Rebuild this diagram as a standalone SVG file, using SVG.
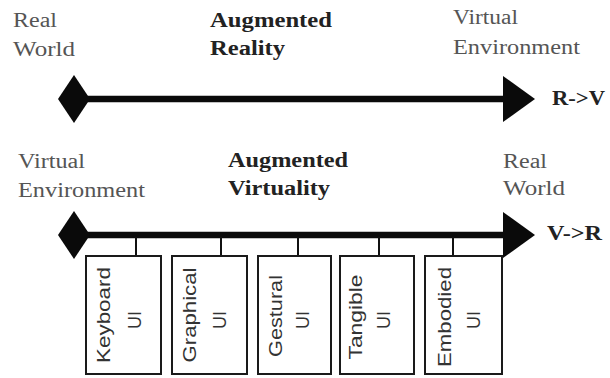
<svg xmlns="http://www.w3.org/2000/svg" width="610" height="378" viewBox="0 0 610 378">
<defs>
<style>
.lbl{font-size:20px;fill:#555}
.bld{font-size:20px;font-weight:bold;fill:#222}
.box{fill:#fff;stroke:#1a1a1a;stroke-width:2}
.bt{font-size:18px;fill:#333;text-anchor:middle}
.axis{stroke:#0a0a0a;stroke-width:6.5;fill:none}
.stem{stroke:#111;stroke-width:2}
</style>
<marker id="dia" markerUnits="userSpaceOnUse" markerWidth="34" markerHeight="50" viewBox="-17 -25 34 50" refX="0" refY="0" orient="auto">
<path d="M-16,0 L0,-24 L16,0 L0,24 Z" fill="#0a0a0a"/>
</marker>
<marker id="arr" markerUnits="userSpaceOnUse" markerWidth="34" markerHeight="50" viewBox="0 -25 34 50" refX="1" refY="0" orient="auto">
<path d="M0,-23 L32,0 L0,23 Z" fill="#0a0a0a"/>
</marker>
</defs>
<rect width="610" height="378" fill="#fff"/>

<g id="connectors">
<line class="axis" x1="74" y1="99" x2="504" y2="99" marker-start="url(#dia)" marker-end="url(#arr)"/>
<line class="axis" x1="74" y1="235" x2="504" y2="235" marker-start="url(#dia)" marker-end="url(#arr)"/>
<line class="stem" x1="136" y1="237" x2="136" y2="256"/>
<line class="stem" x1="221" y1="237" x2="221" y2="256"/>
<line class="stem" x1="298" y1="237" x2="298" y2="256"/>
<line class="stem" x1="379" y1="237" x2="379" y2="256"/>
<line class="stem" x1="453" y1="237" x2="453" y2="256"/>
</g>

<g font-family="'Liberation Serif', 'Times New Roman', serif">
<g id="label-real-world-top">
<text class="lbl" x="13" y="27" textLength="44" lengthAdjust="spacingAndGlyphs">Real</text>
<text class="lbl" x="13" y="56" textLength="62" lengthAdjust="spacingAndGlyphs">World</text>
</g>
<g id="label-augmented-reality">
<text class="bld" x="210" y="27" textLength="122" lengthAdjust="spacingAndGlyphs">Augmented</text>
<text class="bld" x="210" y="55" textLength="75" lengthAdjust="spacingAndGlyphs">Reality</text>
</g>
<g id="label-virtual-env-top">
<text class="lbl" x="453" y="24" textLength="65" lengthAdjust="spacingAndGlyphs">Virtual</text>
<text class="lbl" x="453" y="54" textLength="127" lengthAdjust="spacingAndGlyphs">Environment</text>
</g>
<g id="label-r-v">
<text class="bld" x="552" y="105" textLength="53" lengthAdjust="spacingAndGlyphs">R-&gt;V</text>
</g>
<g id="label-virtual-env-bottom">
<text class="lbl" x="18" y="168" textLength="67" lengthAdjust="spacingAndGlyphs">Virtual</text>
<text class="lbl" x="18" y="197" textLength="127" lengthAdjust="spacingAndGlyphs">Environment</text>
</g>
<g id="label-augmented-virtuality">
<text class="bld" x="228" y="167" textLength="120" lengthAdjust="spacingAndGlyphs">Augmented</text>
<text class="bld" x="228" y="195" textLength="102" lengthAdjust="spacingAndGlyphs">Virtuality</text>
</g>
<g id="label-real-world-bottom">
<text class="lbl" x="503" y="168" textLength="44" lengthAdjust="spacingAndGlyphs">Real</text>
<text class="lbl" x="503" y="195" textLength="62" lengthAdjust="spacingAndGlyphs">World</text>
</g>
<g id="label-v-r">
<text class="bld" x="547" y="240" textLength="55" lengthAdjust="spacingAndGlyphs">V-&gt;R</text>
</g>
</g>

<g font-family="'Liberation Sans', Arial, sans-serif">
<g id="keyboard-ui">
<rect class="box" x="86" y="256" width="75" height="118"/>
<text class="bt" transform="translate(110,315) rotate(-90)" textLength="96" lengthAdjust="spacingAndGlyphs">Keyboard</text>
<text class="bt" transform="translate(141,320) rotate(-90)">UI</text>
</g>
<g id="graphical-ui">
<rect class="box" x="172" y="256" width="75" height="118"/>
<text class="bt" transform="translate(196,315) rotate(-90)" textLength="95" lengthAdjust="spacingAndGlyphs">Graphical</text>
<text class="bt" transform="translate(226,320) rotate(-90)">UI</text>
</g>
<g id="gestural-ui">
<rect class="box" x="258" y="256" width="73" height="118"/>
<text class="bt" transform="translate(282,316) rotate(-90)" textLength="82" lengthAdjust="spacingAndGlyphs">Gestural</text>
<text class="bt" transform="translate(309,320) rotate(-90)">UI</text>
</g>
<g id="tangible-ui">
<rect class="box" x="340" y="256" width="74" height="118"/>
<text class="bt" transform="translate(362,317) rotate(-90)" textLength="85" lengthAdjust="spacingAndGlyphs">Tangible</text>
<text class="bt" transform="translate(390,320) rotate(-90)">UI</text>
</g>
<g id="embodied-ui">
<rect class="box" x="425" y="256" width="77" height="118"/>
<text class="bt" transform="translate(451,317) rotate(-90)" textLength="100" lengthAdjust="spacingAndGlyphs">Embodied</text>
<text class="bt" transform="translate(480,320) rotate(-90)">UI</text>
</g>
</g>
</svg>
